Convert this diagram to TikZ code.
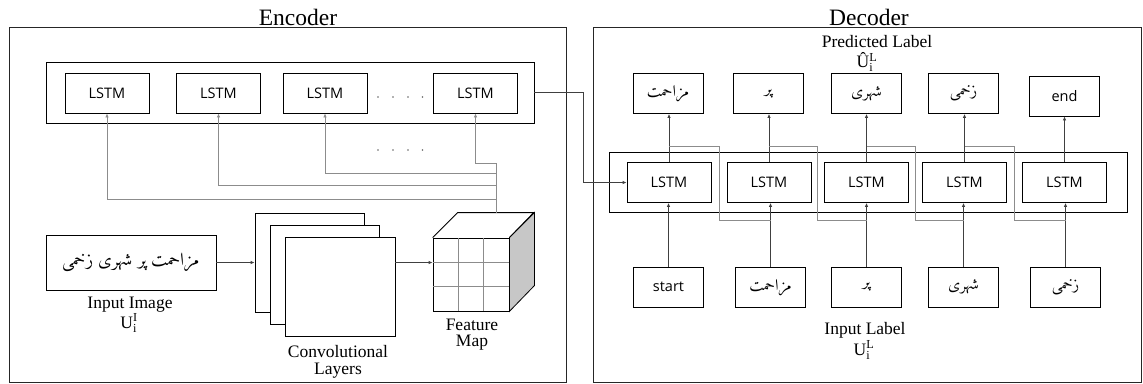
\documentclass[tikz,border=0pt]{standalone}
\usepackage{fontspec}
\setmainfont{Liberation Serif}
\newfontfamily\lsfont{Open Sans}
\newfontfamily\urdu[Script=Arabic]{Amiri-Regular.ttf}
\TeXXeTstate=1
\usetikzlibrary{arrows.meta,calc}
\begin{document}
\begin{tikzpicture}[x=1pt,y=-1pt,
  box/.style={draw=black, line width=0.8pt, inner sep=0pt},
  frame/.style={draw=black!85, line width=0.9pt, inner sep=0pt},
  lstm/.style={box, minimum width=84pt, minimum height=40pt, font=\lsfont\fontsize{14.5}{17}\selectfont},
  wordbox/.style={box, minimum width=70pt, minimum height=40pt, font=\lsfont\fontsize{14.5}{17}\selectfont},
  urbox/.style={box, minimum width=70pt, minimum height=40pt, font=\urdu\fontsize{16}{18}\selectfont},
  title/.style={font=\fontsize{23.5}{26}\selectfont},
  lab/.style={font=\fontsize{17.5}{20}\selectfont},
  arr/.style={draw=black!75, line width=0.8pt, -{Latex[length=4pt,width=3.5pt]}},
  route/.style={draw=black!45, line width=0.8pt},
  dot/.style={fill=black!60}
]
\useasboundingbox (0,0) rectangle (1143,383);
% frames
\node[frame, minimum width=557pt, minimum height=355pt] (enc) at (287.5,204.5) {};
\node[frame, minimum width=548pt, minimum height=355pt] (dec) at (867,204.5) {};
\node[title] (enctitle) at (298,17) {Encoder};
\node[title] (dectitle) at (869,17) {Decoder};

% ---------------- Encoder ----------------
\node[box, minimum width=488pt, minimum height=61pt] (econt) at (290,92.5) {};
\node[lstm] (el1) at (107,93) {LSTM};
\node[lstm] (el2) at (218.5,93) {LSTM};
\node[lstm] (el3) at (325,93) {LSTM};
\node[lstm] (el4) at (475.5,93) {LSTM};
\foreach \xx in {378,393,408,422.5}{
  \fill[dot] (\xx,97) circle (0.9pt);
  \fill[dot] (\xx,150) circle (0.9pt);
}

\node[box, minimum width=170pt, minimum height=55pt, font=\urdu\fontsize{18}{20}\selectfont] (inimg) at (131,262.5) {\beginR مزاحمت پر شہری زخمی\endR};
\node[lab] (inimglab) at (130,305) {Input Image};
\node[lab] (inimgsym) at (129,323) {U$^{\mathrm{I}}_{\mathrm{i}}$};

\node[box, fill=white, minimum width=109pt, minimum height=99pt] (cv1) at (309.5,262.5) {};
\node[box, fill=white, minimum width=109pt, minimum height=99pt] (cv2) at (325,275) {};
\node[box, fill=white, minimum width=110pt, minimum height=99pt] (cv3) at (340,287) {};
\node[lab] (cvlab1) at (338,352) {Convolutional};
\node[lab] (cvlab2) at (338,371) {Layers};

% feature map cube
\node[box, minimum width=76pt, minimum height=73pt] (fm) at (471,274.5) {};
\draw[box] (fm.north west) -- ++(25,-25) -- ++(76,0) -- (fm.north east);
\draw[box, fill=black!22] (fm.north east) -- ++(25,-25) -- ++(0,73) -- (fm.south east) -- cycle;
\draw[black!45, line width=0.7pt] ($(fm.north west)!0.333!(fm.north east)$) -- ($(fm.south west)!0.333!(fm.south east)$);
\draw[black!45, line width=0.7pt] ($(fm.north west)!0.667!(fm.north east)$) -- ($(fm.south west)!0.667!(fm.south east)$);
\draw[black!45, line width=0.7pt] ($(fm.north west)!0.333!(fm.south west)$) -- ($(fm.north east)!0.333!(fm.south east)$);
\draw[black!45, line width=0.7pt] ($(fm.north west)!0.667!(fm.south west)$) -- ($(fm.north east)!0.667!(fm.south east)$);
\node[lab] (fmlab1) at (472,325) {Feature};
\node[lab] (fmlab2) at (472,343) {Map};

\draw[arr] (inimg.east) -- (cv1.west);
\draw[arr] (cv3.east |- inimg.east) -- (fm.west |- inimg.east);

\coordinate (ftop) at (496,213);
\draw[route] (ftop) -- (496,163);
\draw[arr, draw=black!45] (496,163) -| (el4.south);
\draw[arr, draw=black!45] (496,173) -| (el3.south);
\draw[arr, draw=black!45] (496,185) -| (el2.south);
\draw[arr, draw=black!45] (496,199) -| (el1.south);

% ---------------- Decoder ----------------
\node[lab] (predlab) at (877,42) {Predicted Label};
\node[lab] (predsym) at (867,62) {\^U$^{\mathrm{L}}_{\mathrm{i}}$};
\node[box, minimum width=518pt, minimum height=60pt] (dcont) at (868,182) {};
\node[lstm] (dl1) at (669,182.5) {LSTM};
\node[lstm] (dl2) at (769,182.5) {LSTM};
\node[lstm] (dl3) at (866.5,182.5) {LSTM};
\node[lstm] (dl4) at (964.5,182.5) {LSTM};
\node[lstm] (dl5) at (1064.5,182.5) {LSTM};

\node[urbox] (p1) at (668,93.5) {\beginR مزاحمت\endR};
\node[urbox] (p2) at (768.5,93.5) {\beginR پر\endR};
\node[urbox] (p3) at (866.5,93.5) {\beginR شہری\endR};
\node[urbox] (p4) at (963.5,93.5) {\beginR زخمی\endR};
\node[wordbox] (p5) at (1064.5,96) {end};

\node[wordbox] (i1) at (668.5,287) {start};
\node[urbox] (i2) at (770.5,287) {\beginR مزاحمت\endR};
\node[urbox] (i3) at (866.5,287) {\beginR پر\endR};
\node[urbox] (i4) at (963.5,287) {\beginR شہری\endR};
\node[urbox] (i5) at (1065.5,287) {\beginR زخمی\endR};
\node[lab] (inlab) at (865,330) {Input Label};
\node[lab] (insym) at (864,350) {U$^{\mathrm{L}}_{\mathrm{i}}$};

\foreach \k in {1,...,5}{
  \draw[arr] (dl\k.north) -- (dl\k.north |- p\k.south);
  \draw[arr] (i\k.north) -- (i\k.north |- dl\k.south);
}
% recurrent links
\foreach \a/\b/\g in {1/2/719,2/3/817.5,3/4/915.5,4/5/1014.5}{
  \draw[route] (dl\a.north |- 0,146) -| (\g,220) -- (i\b.north |- 0,220);
}

% encoder -> decoder
\coordinate (bend) at (583,92.5);
\draw[arr] (econt.east) -- (bend) |- (dl1.west);
\end{tikzpicture}
\end{document}
